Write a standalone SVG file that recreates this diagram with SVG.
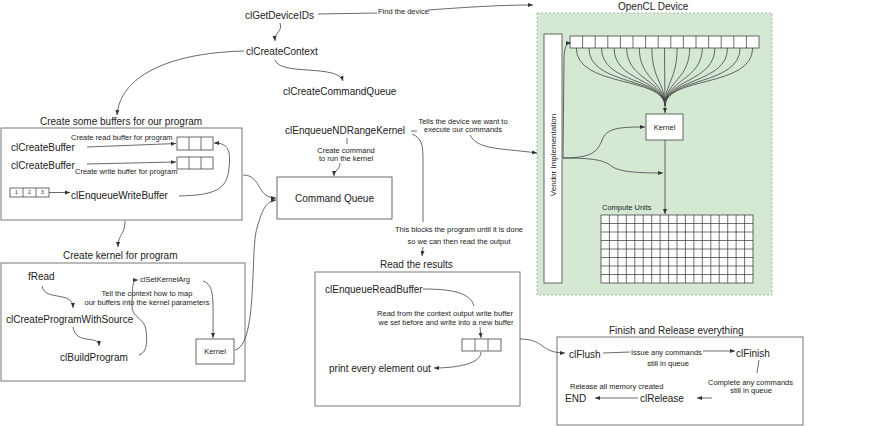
<svg xmlns="http://www.w3.org/2000/svg" width="880" height="426" viewBox="0 0 880 426">
<defs>
<marker id="arr" viewBox="0 0 10 10" refX="10" refY="5" markerWidth="5" markerHeight="5" markerUnits="userSpaceOnUse" orient="auto"><path d="M0,1 L10,5 L0,9 z" fill="#333"/></marker>
<style>
text{font-family:"Liberation Sans",Arial,sans-serif;fill:#222}
.b{font-size:10px}
.s{font-size:7.5px}
.t{font-size:5px}
.m{text-anchor:middle}
.sec{fill:#fff;stroke:#777;stroke-width:1}
.box{fill:#fff;stroke:#444;stroke-width:0.8}
.c path{fill:none;stroke:#444;stroke-width:0.8}
.c .a{marker-end:url(#arr)}
.grid{fill:none;stroke:#333;stroke-width:0.7}
</style>
</defs>
<rect width="880" height="426" fill="#fff"/>

<!-- Device -->
<g id="device">
<rect x="537" y="13" width="235" height="282" fill="#d5e8d4" stroke="#aab8a6" stroke-dasharray="2,2"/>
<text class="b" x="618" y="9.5">OpenCL Device</text>
</g>
<g id="vendor">
<rect x="544" y="34" width="18" height="249" class="box"/>
<text class="s m" style="font-size:8px" transform="translate(555.5,155) rotate(-90)">Vendor Implementation</text>
</g>
<g id="device-buffer">
<rect x="570" y="36" width="189" height="12" class="box"/>
<path class="grid" d="M582.6,36v12M595.2,36v12M607.8,36v12M620.4,36v12M633,36v12M645.6,36v12M658.2,36v12M670.8,36v12M683.4,36v12M696,36v12M708.6,36v12M721.2,36v12M733.8,36v12M746.4,36v12"/>
</g>
<g id="device-kernel">
<rect x="646" y="114" width="37" height="26" class="box"/>
<text class="s m" x="664.5" y="129.7">Kernel</text>
</g>
<g id="compute-units">
<text class="s" x="602" y="209.7">Compute Units</text>
<rect x="601" y="215" width="152" height="68" class="box"/>
<path class="grid" d="M609.4,215v68M617.9,215v68M626.3,215v68M634.8,215v68M643.2,215v68M651.7,215v68M660.1,215v68M668.6,215v68M677,215v68M685.4,215v68M693.9,215v68M702.3,215v68M710.8,215v68M719.2,215v68M727.7,215v68M736.1,215v68M744.6,215v68M601,223.5h152M601,232h152M601,240.5h152M601,249h152M601,257.5h152M601,266h152M601,274.5h152"/>
</g>

<!-- Top -->
<g id="clGetDeviceIDs"><text class="b" x="245" y="19">clGetDeviceIDs</text></g>
<g id="find-label"><text class="s" x="378" y="13.5">Find the device</text></g>
<g id="clCreateContext"><text class="b" x="246" y="55">clCreateContext</text></g>
<g id="clCreateCommandQueue"><text class="b" x="283" y="95">clCreateCommandQueue</text></g>

<!-- Buffers section -->
<g id="buffers">
<text class="b" x="40" y="124.5">Create some buffers for our program</text>
<rect x="1" y="128" width="241" height="92" class="sec"/>
<text class="b" x="11" y="150.5">clCreateBuffer</text>
<text class="s" x="71" y="139.7">Create read buffer for program</text>
<rect x="177" y="137" width="36" height="13" class="box"/>
<path class="grid" d="M189,137v13M201,137v13"/>
<text class="b" x="11" y="168.5">clCreateBuffer</text>
<text class="s" x="75" y="173.7">Create write buffer for program</text>
<rect x="177" y="157" width="36" height="12" class="box"/>
<path class="grid" d="M189,157v12M201,157v12"/>
<rect x="10" y="188" width="39" height="9" class="box"/>
<path class="grid" d="M23,188v9M36,188v9"/>
<text class="t m" x="16.5" y="194.3">1</text>
<text class="t m" x="29.5" y="194.3">2</text>
<text class="t m" x="42.5" y="194.3">3</text>
<text class="b" x="71" y="198.5">clEnqueueWriteBuffer</text>
</g>

<!-- Kernel section -->
<g id="kernel-section">
<text class="b" x="63" y="258.5">Create kernel for program</text>
<rect x="1" y="263" width="244" height="118" class="sec"/>
<text class="b" x="28" y="279.5">fRead</text>
<text class="b" x="6" y="322.5">clCreateProgramWithSource</text>
<text class="b" x="60" y="360.5">clBuildProgram</text>
<text class="s" x="140" y="281.7">clSetKernelArg</text>
<text class="s m" x="147" y="295.7">Tell the context how to map</text>
<text class="s m" x="147" y="304.7">our buffers into the kernel parameters</text>
</g>
<g id="kernel-left">
<rect x="196" y="339" width="38" height="25" class="box"/>
<text class="s m" x="215" y="354">Kernel</text>
</g>

<!-- Command queue -->
<g id="clEnqueueNDRangeKernel"><text class="b" x="285" y="133.5">clEnqueueNDRangeKernel</text></g>
<g id="cmd-label"><text class="s m" x="346" y="152.7">Create command</text><text class="s m" x="346" y="160.7">to run the kernel</text></g>
<g id="tells-label"><text class="s m" x="463" y="123.7">Tells the device we want to</text><text class="s m" x="463" y="131.7">execute our commands</text></g>
<g id="command-queue">
<rect x="277" y="177" width="115" height="42" class="box"/>
<text class="b m" x="334.5" y="201.5">Command Queue</text>
</g>
<g id="blocks-label"><text class="s m" x="459" y="231.7">This blocks the program until it is done</text><text class="s m" x="459" y="243.7">so we can then read the output</text></g>

<!-- Read section -->
<g id="read-section">
<text class="b" x="380" y="267.5">Read the results</text>
<rect x="315" y="272" width="205" height="134" class="sec"/>
<text class="b" x="325" y="292.5">clEnqueueReadBuffer</text>
<text class="s m" x="445" y="315.7">Read from the context output write buffer</text>
<text class="s m" x="446" y="324.7">we set before and write into a new buffer</text>
<rect x="462" y="339" width="39" height="12" class="box"/>
<path class="grid" d="M475,339v12M488,339v12"/>
<text class="b" x="329" y="371.5">print every element out</text>
</g>

<!-- Finish section -->
<g id="finish-section">
<text class="b" x="609" y="333.5">Finish and Release everything</text>
<rect x="557" y="337" width="246" height="88" class="sec"/>
<text class="b" x="569" y="357.5">clFlush</text>
<text class="s" x="631" y="354.7">Issue any commands</text>
<text class="s m" x="668" y="365.7">still in queue</text>
<text class="b" x="736" y="356.5">clFinish</text>
<text class="s" x="708" y="384.7">Complete any commands</text>
<text class="s m" x="751" y="392.7">still in queue</text>
<text class="s" x="570" y="388.7">Release all memory created</text>
<text class="b" x="565" y="401.5">END</text>
<text class="b" x="640" y="401.5">clRelease</text>
</g>

<g id="connectors" class="c">
<path d="M318,14 L377,13"/>
<path class="a" d="M428,10 C470,7 500,5 533,5"/>
<path class="a" d="M280,23 C283,32 274,32 275,41"/>
<path class="a" d="M244,51 C165,53 120,78 117,115"/>
<path class="a" d="M275,60 C280,76 338,64 343,81"/>
<path class="a" d="M87,147 L176,143.5"/>
<path class="a" d="M87,164 L176,162"/>
<path class="a" d="M49,192.5 L70,192.5"/>
<path class="a" d="M179,196 C215,195 227,190 229,168 C231,150 228,143 214,143"/>
<path class="a" d="M243,175 C262,175 256,198 276,198"/>
<path class="a" d="M125,221 C125,235 118,234 118,247"/>
<path class="a" d="M235,350 C258,345 250,250 257,228 C262,210 266,201 276,200"/>
<path class="a" d="M42,286 C45,302 73,290 73,308"/>
<path class="a" d="M73,327 C76,346 99,334 99,346"/>
<path class="a" d="M139,355 C148,352 147,340 146,330 C145,318 131,318 132,305 C133,290 131,280 138,280"/>
<path class="a" d="M203,281 C215,285 213,300 213,338"/>
<path d="M347,138 L347,144"/>
<path class="a" d="M340,163 C340,170 334,170 334,176"/>
<path d="M411,131 L417,131"/>
<path class="a" d="M470,135 C478,150 500,148 537,153"/>
<path d="M412,134 C422,138 423,145 423,160 L423,222"/>
<path class="a" d="M423,247 L422,256"/>
<path d="M423,289 C450,289 470,292 474,306"/>
<path class="a" d="M480,327 L481,338"/>
<path class="a" d="M481,352 C481,365 452,368 434,368"/>
<path class="a" d="M520,339 C545,339 540,353 565,353"/>
<path d="M603,353 L630,352"/>
<path class="a" d="M703,351 L735,351"/>
<path d="M759,360 L757,373"/>
<path class="a" d="M712,398 L697,398"/>
<path class="a" d="M638,398 L595,398"/>
<path class="a" d="M563,158 L564,60 C564,48 566,43 571,43"/>
<path class="a" d="M563,158 C595,158 598,150 603,138 C608,128 620,127 645,127"/>
<path class="a" d="M563,158 C592,158 603,160 610,165 C617,171 630,173 663,173"/>
<path class="a" d="M665,140 L665,214"/>
<path d="M576.3,48 C576.3,88 665,76 665,106"/>
<path d="M588.9,48 C588.9,86 665,77 665,106"/>
<path d="M601.5,48 C601.5,84 665,78 665,106"/>
<path d="M614.1,48 C614.1,82 665,79 665,106"/>
<path d="M626.7,48 C626.7,80 665,80 665,106"/>
<path d="M639.3,48 C639.3,80 665,81 665,106"/>
<path d="M651.9,48 C651.9,80 665,82 665,106"/>
<path class="a" d="M664.5,48 L665,113"/>
<path d="M677.1,48 C677.1,80 665,82 665,106"/>
<path d="M689.7,48 C689.7,80 665,81 665,106"/>
<path d="M702.3,48 C702.3,80 665,80 665,106"/>
<path d="M714.9,48 C714.9,82 665,79 665,106"/>
<path d="M727.5,48 C727.5,84 665,78 665,106"/>
<path d="M740.1,48 C740.1,86 665,77 665,106"/>
<path d="M752.7,48 C752.7,88 665,76 665,106"/>
</g>
</svg>
